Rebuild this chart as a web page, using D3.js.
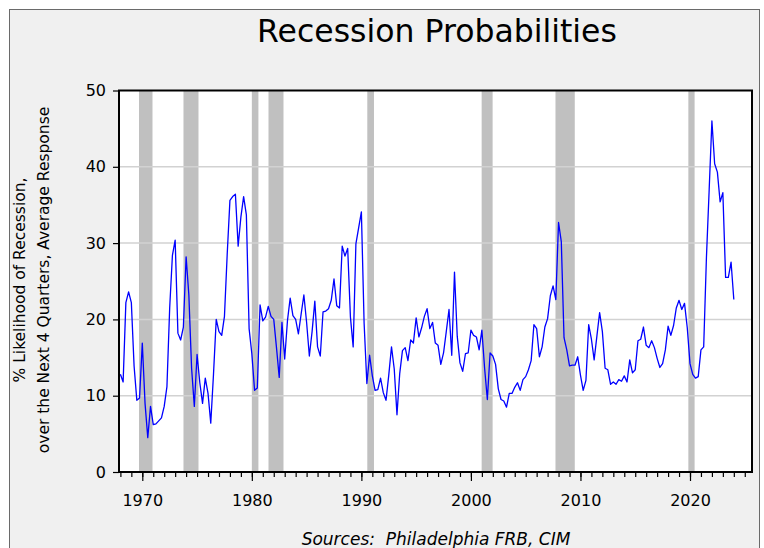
<!DOCTYPE html>
<html><head><meta charset="utf-8">
<script src="https://cdn.jsdelivr.net/npm/d3@7/dist/d3.min.js"></script>
<style>html,body{margin:0;padding:0;background:#fff;}svg{display:block;}</style>
</head><body>
<svg id="chart" width="764" height="548"></svg>
<script>
// ---- data ----
const title = "Recession Probabilities";
const yLabelLines = ["% Likelihood of Recession,", "over the Next 4 Quarters, Average Response"];
const sourceText = "Sources:  Philadelphia FRB, CIM";
const startYear = 1968; // first observation: 1968 Q1, quarterly
const probability = [
  12.8, 11.8, 22.2, 23.6,  22.2, 13.9, 9.4, 9.7,   16.9, 9.0, 4.5, 8.6,   6.2, 6.3, 6.7, 7.1,
  8.6, 11.2, 21.5, 28.4,   30.4, 18.2, 17.3, 19.0, 28.2, 23.2, 13.6, 8.6, 15.4, 11.7, 9.0, 12.3,
  10.3, 6.4, 12.8, 20.0,   18.4, 17.9, 20.4, 28.5, 35.6, 36.1, 36.4, 29.6, 33.4, 36.1, 33.7, 18.8,
  15.5, 10.7, 11.0, 21.9,  19.8, 20.3, 21.7, 20.4, 20.0, 16.3, 12.4, 19.6, 14.8, 19.8, 22.8, 20.5,
  20.0, 18.1, 20.7, 23.2,  19.6, 15.2, 18.4, 22.4, 16.4, 15.2, 21.0, 21.1, 21.4, 22.5, 25.3, 21.8,
  21.5, 29.6, 28.3, 29.3,  20.3, 16.4, 29.9, 32.0, 34.1, 19.5, 11.6, 15.3, 12.6, 10.7, 10.8, 12.3,
  10.4, 9.4, 12.7, 16.4,   13.5, 7.5, 12.9, 15.9,  16.3, 14.6, 17.3, 16.9, 20.2, 17.7, 18.9, 20.4,
  21.4, 18.8, 19.6, 16.9,  16.6, 14.1, 15.6, 18.4, 21.3, 15.3, 26.2, 17.8, 14.3, 13.2, 15.5, 15.6,
  18.6, 17.9, 17.7, 16.0,  18.6, 13.6, 9.5, 15.6,  15.2, 14.1, 10.9, 9.5,  9.3, 8.5, 10.3, 10.3,
  11.1, 11.7, 10.7, 12.1,  12.5, 13.4, 14.6, 19.3, 18.8, 15.1, 16.4, 19.0, 20.1, 23.1, 24.4, 22.6,
  32.7, 30.2, 17.6, 16.0,  13.9, 14.0, 14.0, 15.1, 12.7, 10.7, 12.0, 19.3, 17.4, 14.7, 17.8, 20.9,
  18.4, 13.6, 13.4, 11.5,  11.8, 11.5, 12.1, 11.9, 12.6, 11.8, 14.7, 13.0, 13.4, 17.2, 17.4, 19.0,
  16.6, 16.3, 17.2, 16.3,  14.9, 13.7, 14.2, 16.0, 19.1, 17.9, 19.2, 21.5, 22.5, 21.3, 22.1, 18.9,
  14.2, 12.8, 12.3, 12.5,  16.0, 16.4, 28.1, 37.0, 46.0, 40.4, 39.3, 35.4, 36.6, 25.5, 25.5, 27.5,
  22.6
];
const recessionStart = [1969.70, 1973.76, 1980.00, 1981.52, 1990.54, 2000.98, 2007.72, 2019.85];
const recessionEnd   = [1970.93, 1975.13, 1980.60, 1982.89, 1991.15, 2001.98, 2009.48, 2020.42];
const yTicks = [0, 10, 20, 30, 40, 50];
const yGrid = [10, 20, 30, 40];
const xMajorTicks = [1970, 1980, 1990, 2000, 2010, 2020];
const xMinorTicks = d3.range(1968, 2026);

// ---- layout ----
const W = 764, H = 548;
const plot = {left: 119, right: 752, top: 90.5, bottom: 472};
const svg = d3.select("#chart");

// outer background & frame
svg.append("rect").attr("x", 0).attr("y", 0).attr("width", W).attr("height", H).attr("fill", "#ffffff");
svg.append("rect").attr("x", 9.5).attr("y", 9.5).attr("width", 750).attr("height", 560)
  .attr("fill", "#f0f0f0").attr("stroke", "#6a6a6a").attr("stroke-width", 1);

// scales
const x = d3.scaleLinear().domain([1967.873, 2025.66]).range([plot.left, plot.right]);
const y = d3.scaleLinear().domain([0, 50]).range([plot.bottom, plot.top]);

// plot background
svg.append("rect").attr("x", plot.left).attr("y", plot.top)
  .attr("width", plot.right - plot.left).attr("height", plot.bottom - plot.top).attr("fill", "#ffffff");

// recession bands
const bands = recessionStart.map((s, i) => ({s, e: recessionEnd[i]}));
svg.append("g").selectAll("rect").data(bands).join("rect")
  .attr("x", d => x(d.s)).attr("width", d => x(d.e) - x(d.s))
  .attr("y", plot.top).attr("height", plot.bottom - plot.top)
  .attr("fill", "#c0c0c0");

// gridlines
svg.append("g").selectAll("line").data(yGrid).join("line")
  .attr("x1", plot.left).attr("x2", plot.right)
  .attr("y1", d => y(d)).attr("y2", d => y(d))
  .attr("stroke", "#d2d2d2").attr("stroke-width", 1.5);

// data line
const series = probability.map((v, i) => ({t: startYear + i / 4, v}));
svg.append("path").datum(series)
  .attr("fill", "none").attr("stroke", "#0000ff").attr("stroke-width", 1.3)
  .attr("stroke-linejoin", "round")
  .attr("d", d3.line().x(d => x(d.t)).y(d => y(d.v)));

// frame lines
svg.append("rect").attr("x", plot.left).attr("y", plot.top)
  .attr("width", plot.right - plot.left).attr("height", plot.bottom - plot.top)
  .attr("fill", "none").attr("stroke", "#000").attr("stroke-width", 2);

// y axis
const yAxis = d3.axisLeft(y).tickValues(yTicks).tickSize(6).tickPadding(7).tickFormat(d3.format("d"));
const gy = svg.append("g").attr("transform", `translate(${plot.left},0)`).call(yAxis);
gy.select(".domain").remove();
gy.selectAll(".tick line").attr("stroke", "#000").attr("stroke-width", 1.2);
gy.selectAll(".tick text").attr("font-family", "DejaVu Sans, Verdana, sans-serif").attr("font-size", 16).attr("fill", "#000");

// x axis minor
const gxm = svg.append("g").attr("transform", `translate(0,${plot.bottom})`)
  .call(d3.axisBottom(x).tickValues(xMinorTicks).tickSize(5).tickFormat(""));
gxm.select(".domain").remove();
gxm.selectAll(".tick line").attr("stroke", "#000").attr("stroke-width", 1.2);
// x axis major
const gx = svg.append("g").attr("transform", `translate(0,${plot.bottom})`)
  .call(d3.axisBottom(x).tickValues(xMajorTicks).tickSize(9).tickPadding(14).tickFormat(d3.format("d")));
gx.select(".domain").remove();
gx.selectAll(".tick line").attr("stroke", "#000").attr("stroke-width", 1.2);
gx.selectAll(".tick text").attr("font-family", "DejaVu Sans, Verdana, sans-serif").attr("font-size", 16).attr("fill", "#000");

// title
svg.append("text").attr("x", 437).attr("y", 42).attr("text-anchor", "middle")
  .attr("font-family", "DejaVu Sans, Verdana, sans-serif").attr("font-size", 31.5).attr("fill", "#000")
  .text(title);

// y label
const yl = svg.append("text").attr("transform", "translate(0,280) rotate(-90)")
  .attr("text-anchor", "middle").attr("font-family", "DejaVu Sans, Verdana, sans-serif")
  .attr("font-size", 15.5).attr("fill", "#000");
yl.selectAll("tspan").data(yLabelLines).join("tspan")
  .attr("x", 0).attr("y", (d, i) => 25 + i * 24).text(d => d);

// source
svg.append("text").attr("x", 436).attr("y", 545).attr("text-anchor", "middle")
  .attr("font-family", "DejaVu Sans, Verdana, sans-serif").attr("font-style", "italic")
  .attr("font-size", 17).attr("fill", "#000").attr("xml:space", "preserve")
  .style("white-space", "pre").text(sourceText);
</script>
</body></html>
